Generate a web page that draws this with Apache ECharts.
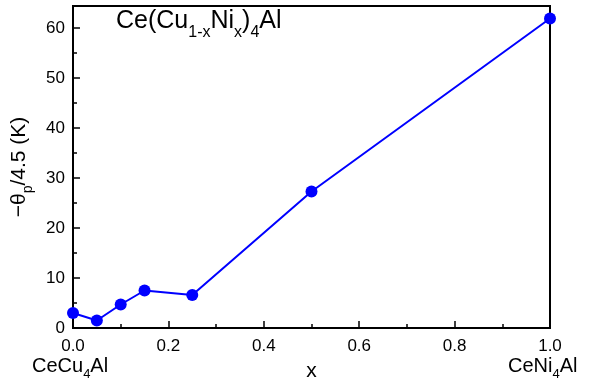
<!DOCTYPE html>
<html>
<head>
<meta charset="utf-8">
<script src="https://cdn.jsdelivr.net/npm/echarts@6/dist/echarts.min.js"></script>
<style>
  html, body { margin: 0; padding: 0; background: #fff; }
  #chart { width: 604px; height: 378px; }
</style>
</head>
<body>
<div id="chart"></div>
<script>
// Ni content x and -theta_p/4.5 values
const xValues = [0, 0.05, 0.1, 0.15, 0.25, 0.5, 1.0]
const thetaValues = [3.0, 1.5, 4.7, 7.5, 6.6, 27.3, 61.9]

const font = 'Liberation Sans, Arial, sans-serif'

const chart = echarts.init(document.getElementById('chart'))

chart.setOption({
  animation: false,
  backgroundColor: '#fff',
  textStyle: { fontFamily: font },
  title: {
    text: '{a|Ce(Cu}{s|1-x}{a|Ni}{s|x}{a|)}{s|4}{a|Al}',
    left: 116,
    top: 8,
    padding: 0,
    textStyle: {
      fontWeight: 'normal',
      rich: {
        a: { fontSize: 25, fontWeight: 'normal', fontFamily: font, color: '#000', lineHeight: 27 },
        s: { fontSize: 16, fontWeight: 'normal', fontFamily: font, color: '#000', lineHeight: 16, padding: [22, 0, 0, 0] }
      }
    }
  },
  grid: {
    left: 73,
    right: 54,
    top: 6,
    bottom: 50,
    outerBoundsMode: 'none',
    show: true,
    borderColor: '#000',
    borderWidth: 2
  },
  xAxis: {
    type: 'value',
    min: 0,
    max: 1,
    interval: 0.2,
    name: 'x',
    nameLocation: 'middle',
    nameGap: 33,
    nameTextStyle: { fontSize: 21, color: '#000', fontFamily: font },
    axisLine: { lineStyle: { color: '#000', width: 2 } },
    axisTick: { inside: true, length: 7, lineStyle: { color: '#000', width: 1.5 } },
    minorTick: { show: true, splitNumber: 2, length: 4, lineStyle: { color: '#000', width: 1.5 } },
    splitLine: { show: false },
    axisLabel: {
      fontSize: 17,
      color: '#000',
      margin: 10,
      formatter: v => v.toFixed(1)
    }
  },
  yAxis: {
    type: 'value',
    min: 0,
    max: 64.4,
    interval: 10,
    name: '{a|−θ}{s|p}{a|/4.5 (K)}',
    nameLocation: 'middle',
    nameRotate: 90,
    nameGap: 35,
    nameTextStyle: {
      rich: {
        a: { fontSize: 21, fontFamily: font, color: '#000', lineHeight: 24 },
        s: { fontSize: 14, fontFamily: font, color: '#000', lineHeight: 14, padding: [18, 0, 0, 0] }
      }
    },
    axisLine: { lineStyle: { color: '#000', width: 2 } },
    axisTick: { inside: true, length: 7, lineStyle: { color: '#000', width: 1.5 } },
    minorTick: { show: true, splitNumber: 2, length: 4, lineStyle: { color: '#000', width: 1.5 } },
    splitLine: { show: false },
    axisLabel: {
      fontSize: 17,
      color: '#000',
      margin: 8,
      showMaxLabel: false
    }
  },
  graphic: [
    {
      type: 'text',
      left: 32,
      top: 352,
      style: {
        text: '{a|CeCu}{s|4}{a|Al}',
        rich: {
          a: { fontSize: 20, fontFamily: font, fill: '#000', lineHeight: 22 },
          s: { fontSize: 13, fontFamily: font, fill: '#000', lineHeight: 13, padding: [16, 0, 0, 0] }
        }
      }
    },
    {
      type: 'text',
      left: 508,
      top: 352,
      style: {
        text: '{a|CeNi}{s|4}{a|Al}',
        rich: {
          a: { fontSize: 20, fontFamily: font, fill: '#000', lineHeight: 22 },
          s: { fontSize: 13, fontFamily: font, fill: '#000', lineHeight: 13, padding: [16, 0, 0, 0] }
        }
      }
    }
  ],
  series: [{
    type: 'line',
    data: xValues.map((x, i) => [x, thetaValues[i]]),
    color: '#0000ff',
    lineStyle: { width: 2, color: '#0000ff' },
    symbol: 'circle',
    symbolSize: 12,
    itemStyle: { color: '#0000ff' },
    clip: false
  }]
})
</script>
</body>
</html>
